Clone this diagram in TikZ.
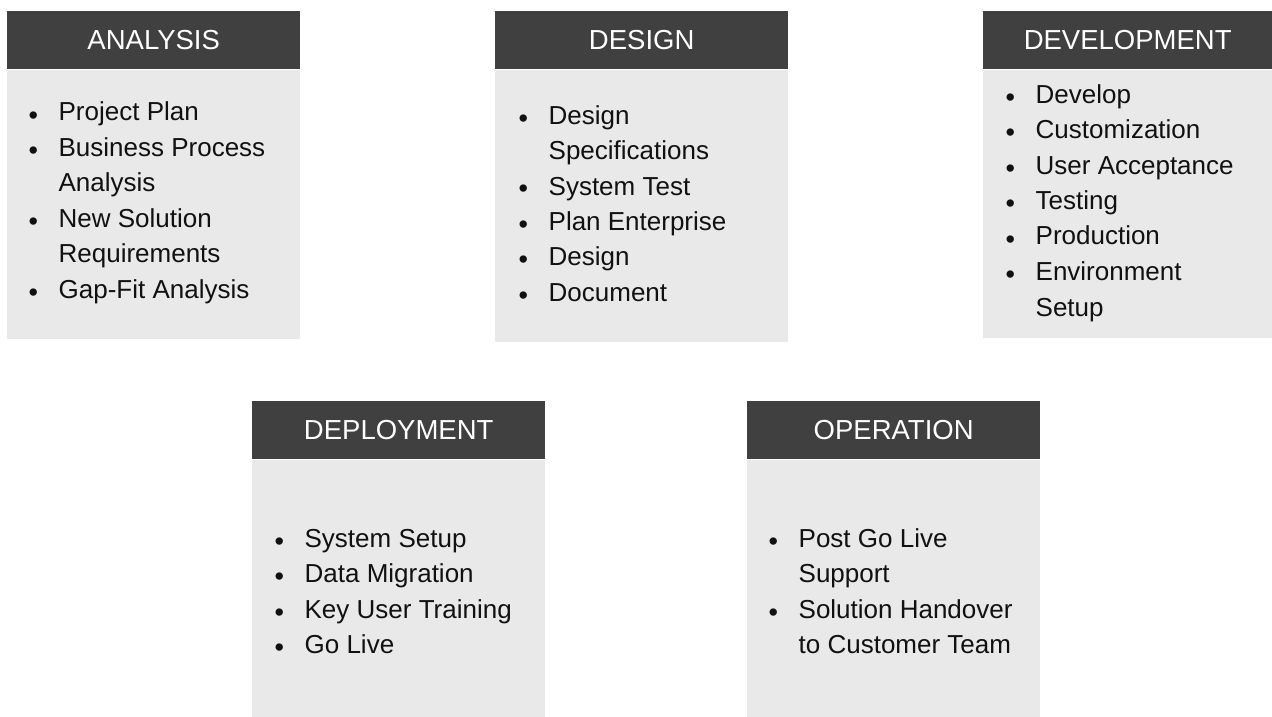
\documentclass[tikz,border=0pt]{standalone}
\usepackage{fontspec}
\setmainfont{Liberation Sans}
\usetikzlibrary{positioning}
\definecolor{headgray}{HTML}{404040}
\definecolor{bodygray}{HTML}{E9E9E9}
\definecolor{inkblack}{HTML}{111111}
\newcommand{\bul}{\raisebox{-3pt}{\fontsize{27}{27}\selectfont •}}
\newenvironment{phaselist}{\begin{tabular}[t]{@{}l@{\hspace{20.7pt}}l@{}}}{\end{tabular}}

\begin{document}
\begin{tikzpicture}[x=1pt, y=-1pt,
    head/.style={fill=headgray, text=white, font=\fontsize{27.5}{30}\selectfont,
      minimum height=58pt, inner sep=0pt, anchor=north west},
    body/.style={fill=bodygray, inner sep=0pt},
    items/.style={anchor=base west, inner sep=0pt, text=inkblack,
      font=\fontsize{26}{35.5}\selectfont}]
  \useasboundingbox (0,0) rectangle (1272,717);
  % top row
  \node[head, minimum width=293pt] (ana) at (7,11) {ANALYSIS};
  \node[body, minimum width=293pt, minimum height=269pt, below=0pt of ana] (anabox) {};
  \node[head, minimum width=293pt] (des) at (495,11) {DESIGN};
  \node[body, minimum width=293pt, minimum height=272pt, below=0pt of des] (desbox) {};
  \node[head, minimum width=289pt] (dev) at (983,11) {DEVELOPMENT};
  \node[body, minimum width=289pt, minimum height=268pt, below=0pt of dev] (devbox) {};
  % bottom row
  \node[head, minimum width=293pt] (dep) at (252,401) {DEPLOYMENT};
  \node[body, minimum width=293pt, minimum height=258pt, below=0pt of dep] (depbox) {};
  \node[head, minimum width=293pt] (ope) at (747,401) {OPERATION};
  \node[body, minimum width=293pt, minimum height=258pt, below=0pt of ope] (opebox) {};
  % lists
  \node[items] (analist) at (28.3,121) {\begin{phaselist}
      \bul & Project Plan\\
      \bul & Business Process\\
           & Analysis\\
      \bul & New Solution\\
           & Requirements\\
      \bul & Gap-Fit Analysis
    \end{phaselist}};
  \node[items] (deslist) at (518.3,124) {\begin{phaselist}
      \bul & Design\\
           & Specifications\\
      \bul & System Test\\
      \bul & Plan Enterprise\\
      \bul & Design\\
      \bul & Document
    \end{phaselist}};
  \node[items] (devlist) at (1005.3,103) {\begin{phaselist}
      \bul & Develop\\
      \bul & Customization\\
      \bul & User Acceptance\\
      \bul & Testing\\
      \bul & Production\\
      \bul & Environment\\
           & Setup
    \end{phaselist}};
  \node[items] (deplist) at (274.3,547) {\begin{phaselist}
      \bul & System Setup\\
      \bul & Data Migration\\
      \bul & Key User Training\\
      \bul & Go Live
    \end{phaselist}};
  \node[items] (opelist) at (768.3,547) {\begin{phaselist}
      \bul & Post Go Live\\
           & Support\\
      \bul & Solution Handover\\
           & to Customer Team
    \end{phaselist}};
\end{tikzpicture}
\end{document}
